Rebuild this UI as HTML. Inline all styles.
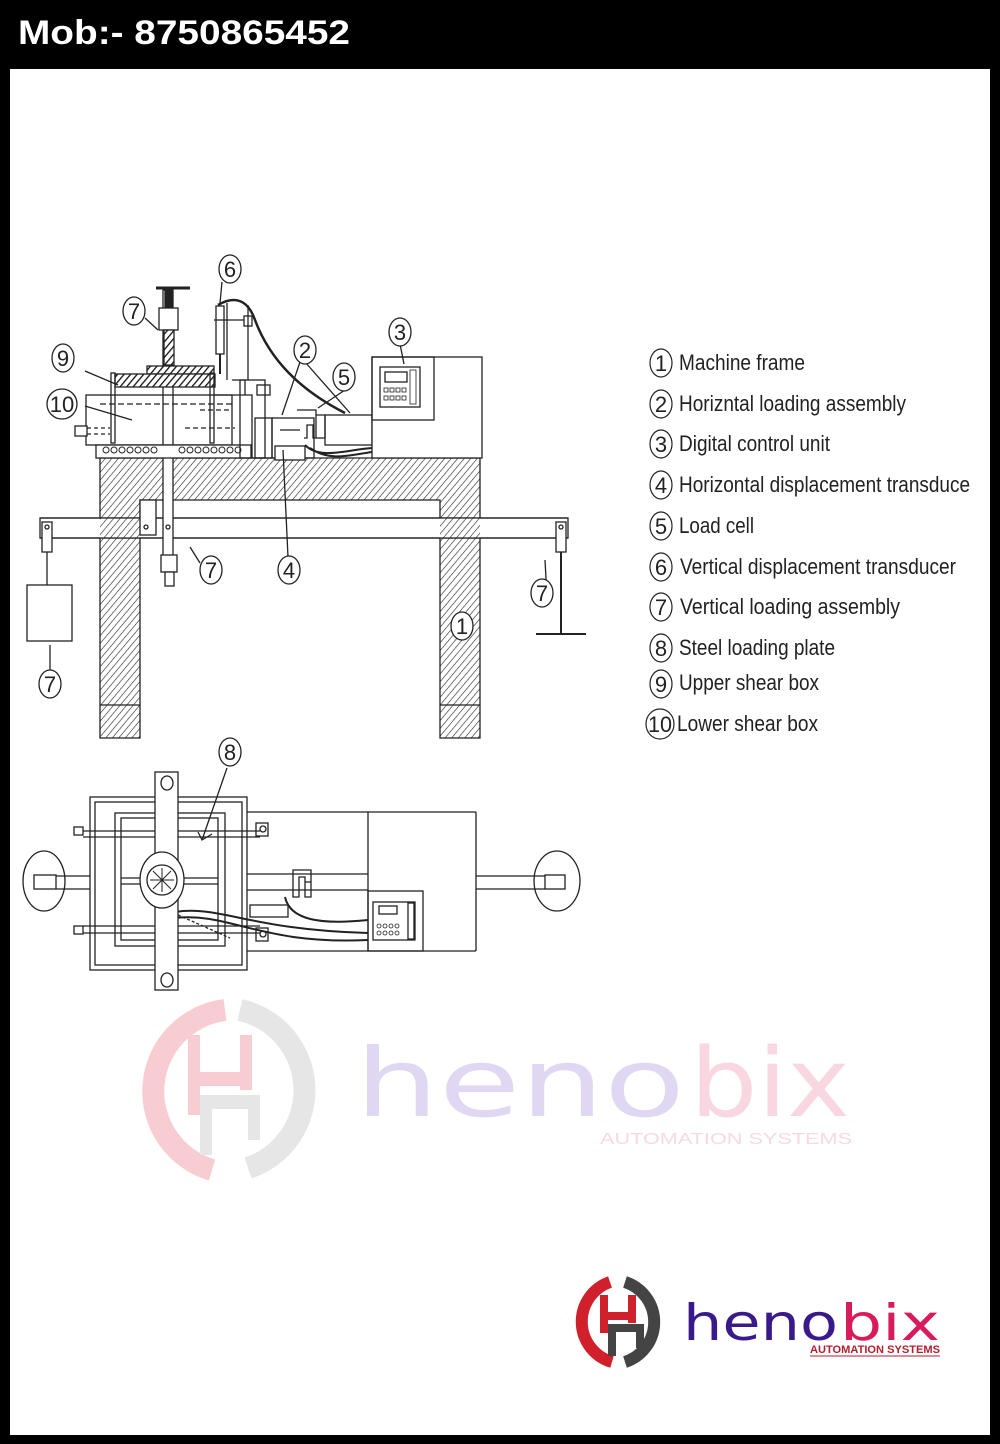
<!DOCTYPE html>
<html><head><meta charset="utf-8"><style>
html,body{margin:0;padding:0;background:#000;}
body{width:1000px;height:1444px;position:relative;overflow:hidden;font-family:"Liberation Sans",sans-serif;}
#panel{position:absolute;left:10px;top:69px;width:980px;height:1366px;background:#fff;}
svg{position:absolute;left:0;top:0;}
</style></head><body>
<div id="panel"></div>
<svg width="1000" height="1444" viewBox="0 0 1000 1444" font-family="Liberation Sans, sans-serif">
<defs>
<pattern id="h" width="5" height="5" patternUnits="userSpaceOnUse" patternTransform="rotate(40)">
<rect width="5" height="5" fill="#fff"/><line x1="0" y1="0" x2="0" y2="5" stroke="#222" stroke-width="1.2"/></pattern>
<pattern id="hd" width="5" height="5" patternUnits="userSpaceOnUse" patternTransform="rotate(40)">
<rect width="5" height="5" fill="#fff"/><line x1="0" y1="0" x2="0" y2="5" stroke="#111" stroke-width="2.6"/></pattern>
</defs>
<text x="18" y="44" fill="#fff" font-weight="bold" font-size="34" textLength="332" lengthAdjust="spacingAndGlyphs">Mob:- 8750865452</text>
<g fill="none" stroke="#222" stroke-width="1.3">
<path d="M100 458 H480 V738 H440 V500 H140 V738 H100 Z" fill="url(#h)"/>
<line x1="100" y1="705" x2="140" y2="705"/><line x1="440" y1="705" x2="480" y2="705"/>
<rect x="40" y="518" width="528" height="20" fill="#fff"/>
<rect x="100" y="518" width="40" height="20" fill="url(#h)" stroke="none"/>
<rect x="440" y="518" width="40" height="20" fill="url(#h)" stroke="none"/>
<line x1="40" y1="518" x2="568" y2="518"/><line x1="40" y1="538" x2="568" y2="538"/>
<rect x="42" y="522" width="10" height="30" fill="#fff"/><circle cx="47" cy="527" r="2"/>
<line x1="47" y1="552" x2="47" y2="585"/><rect x="27" y="585" width="45" height="56" fill="#fff"/>
<rect x="556" y="522" width="10" height="30" fill="#fff"/><circle cx="561" cy="527" r="2"/>
<line x1="561" y1="552" x2="561" y2="634" stroke-width="2"/><line x1="536" y1="634" x2="586" y2="634" stroke-width="2"/>
<rect x="140" y="500" width="16" height="35" fill="#fff"/><circle cx="146" cy="527" r="2"/>
<rect x="163" y="290" width="10" height="270" fill="#fff"/>
<rect x="161" y="555" width="16" height="17" fill="#fff"/><rect x="165" y="572" width="9" height="14" fill="#fff"/>
<circle cx="168" cy="527" r="2"/>
<line x1="156" y1="288" x2="190" y2="288" stroke-width="3"/>
<rect x="165" y="290" width="7" height="20" fill="#222"/>
<rect x="159" y="308" width="19" height="22" fill="#fff"/>
<rect x="164" y="330" width="10" height="35" fill="url(#hd)"/>
<rect x="147" y="366" width="67" height="8" fill="url(#hd)"/>
<rect x="115" y="374" width="100" height="13" fill="url(#hd)"/>
<rect x="111" y="373" width="4" height="70"/><rect x="210" y="373" width="4" height="70"/>
<rect x="86" y="395" width="146" height="50" fill="none"/>
<line x1="200" y1="410" x2="230" y2="410" stroke-dasharray="5 3"/>
<line x1="100" y1="404" x2="232" y2="404" stroke-dasharray="6 3"/>
<rect x="75" y="426" width="12" height="10" fill="#fff"/>
<line x1="87" y1="428" x2="110" y2="428" stroke-dasharray="4 3"/><line x1="87" y1="434" x2="110" y2="434" stroke-dasharray="4 3"/>
<line x1="185" y1="428" x2="235" y2="428" stroke-dasharray="5 3"/>
<rect x="96" y="445" width="155" height="13" fill="#fff"/>
<g stroke-width="1">
<circle cx="106" cy="450" r="3"/><circle cx="114" cy="450" r="3"/><circle cx="122" cy="450" r="3"/><circle cx="130" cy="450" r="3"/><circle cx="138" cy="450" r="3"/><circle cx="146" cy="450" r="3"/><circle cx="154" cy="450" r="3"/><circle cx="182" cy="450" r="3"/><circle cx="190" cy="450" r="3"/><circle cx="198" cy="450" r="3"/><circle cx="206" cy="450" r="3"/><circle cx="214" cy="450" r="3"/><circle cx="222" cy="450" r="3"/><circle cx="230" cy="450" r="3"/><circle cx="238" cy="450" r="3"/></g>
<path d="M214 395 H252 V458 M232 380 H245 V395"/>
<rect x="240" y="380" width="25" height="78"/><rect x="257" y="385" width="13" height="10"/>
<line x1="227" y1="303" x2="227" y2="380"/>
<rect x="216" y="306" width="8" height="48" fill="#fff"/><line x1="220" y1="354" x2="220" y2="374" stroke-width="2"/>
<line x1="214" y1="320" x2="248" y2="320"/><rect x="244" y="316" width="8" height="10" fill="#fff"/>
<line x1="248" y1="305" x2="248" y2="380"/>
<path d="M218 305 C235 295 248 300 255 320 C270 360 300 390 345 413" stroke-width="2.5"/>
<rect x="255" y="418" width="17" height="40"/>
<rect x="272" y="418" width="42" height="40"/>
<rect x="275" y="446" width="30" height="14" fill="#fff"/>
<line x1="280" y1="430" x2="300" y2="430"/>
<path d="M297 410 H316 V438 H313 V425 H307 V438 H304 M316 415 H325 V438 H316" />
<rect x="325" y="415" width="47" height="30"/>
<path d="M305 445 C320 460 345 450 372 448 M310 448 C330 462 350 455 372 452" stroke-width="2"/>
<rect x="372" y="357" width="110" height="101" fill="#fff"/>
<rect x="372" y="357" width="62" height="63"/>
<rect x="380" y="367" width="40" height="40"/><rect x="385" y="372" width="22" height="10"/>
<g stroke-width="0.8"><rect x="384" y="388" width="4" height="4"/><rect x="390" y="388" width="4" height="4"/><rect x="396" y="388" width="4" height="4"/><rect x="402" y="388" width="4" height="4"/><rect x="384" y="396" width="4" height="4"/><rect x="390" y="396" width="4" height="4"/><rect x="396" y="396" width="4" height="4"/><rect x="402" y="396" width="4" height="4"/><rect x="410" y="370" width="6" height="34"/></g>
<path d="M145 318 L158 330 M85 371 L118 385 M85 406 L132 420 M222 282 L220 303 M300 362 L282 415 M305 362 L350 413 M345 390 L318 408 M400 344 L404 364 M288 557 L283 450 M200 563 L190 547 M547 597 L545 560 M50 670 L50 645"/>
</g>
<g fill="#fff" stroke="#222" stroke-width="1.3" font-size="22" text-anchor="middle">
<ellipse cx="230" cy="269" rx="11" ry="14"/><text x="230" y="277" fill="#222" stroke="none">6</text>
<ellipse cx="134" cy="311" rx="11" ry="14"/><text x="134" y="319" fill="#222" stroke="none">7</text>
<ellipse cx="63" cy="358" rx="11" ry="14"/><text x="63" y="366" fill="#222" stroke="none">9</text>
<ellipse cx="62" cy="404" rx="15" ry="15"/><text x="62" y="412" fill="#222" stroke="none">10</text>
<ellipse cx="305" cy="350" rx="11" ry="14"/><text x="305" y="358" fill="#222" stroke="none">2</text>
<ellipse cx="344" cy="377" rx="11" ry="14"/><text x="344" y="385" fill="#222" stroke="none">5</text>
<ellipse cx="400" cy="332" rx="11" ry="14"/><text x="400" y="340" fill="#222" stroke="none">3</text>
<ellipse cx="211" cy="570" rx="11" ry="14"/><text x="211" y="578" fill="#222" stroke="none">7</text>
<ellipse cx="289" cy="570" rx="11" ry="14"/><text x="289" y="578" fill="#222" stroke="none">4</text>
<ellipse cx="542" cy="593" rx="11" ry="14"/><text x="542" y="601" fill="#222" stroke="none">7</text>
<ellipse cx="462" cy="626" rx="11" ry="14"/><text x="462" y="634" fill="#222" stroke="none">1</text>
<ellipse cx="50" cy="684" rx="11" ry="14"/><text x="50" y="692" fill="#222" stroke="none">7</text>
<ellipse cx="230" cy="752" rx="11" ry="14"/><text x="230" y="760" fill="#222" stroke="none">8</text>
</g>
<g fill="none" stroke="#222" stroke-width="1.3">
<rect x="90" y="797" width="157" height="173"/><rect x="95" y="802" width="147" height="163"/>
<rect x="115" y="813" width="110" height="133"/><rect x="121" y="818" width="97" height="122"/>
<line x1="247" y1="812" x2="476" y2="812"/><line x1="247" y1="951" x2="476" y2="951"/>
<line x1="368" y1="812" x2="368" y2="951"/><line x1="476" y1="812" x2="476" y2="951"/>
<rect x="74" y="827" width="9" height="8"/><line x1="83" y1="831" x2="260" y2="831"/><line x1="83" y1="837" x2="260" y2="837"/>
<rect x="256" y="823" width="12" height="13"/><circle cx="263" cy="829" r="3"/>
<rect x="74" y="926" width="9" height="8"/><line x1="83" y1="926" x2="260" y2="926"/><line x1="83" y1="933" x2="260" y2="933"/>
<rect x="256" y="928" width="12" height="13"/><circle cx="263" cy="934" r="3"/>
<line x1="121" y1="878" x2="218" y2="878"/><line x1="121" y1="884" x2="218" y2="884"/>
<line x1="247" y1="874" x2="368" y2="874"/><line x1="247" y1="890" x2="368" y2="890"/>
<line x1="476" y1="876" x2="545" y2="876"/><line x1="476" y1="889" x2="545" y2="889"/>
<ellipse cx="44" cy="881" rx="21" ry="30"/><rect x="34" y="875" width="22" height="14"/>
<line x1="56" y1="876" x2="90" y2="876"/><line x1="56" y1="889" x2="90" y2="889"/>
<ellipse cx="557" cy="881" rx="23" ry="30"/><rect x="545" y="875" width="20" height="14"/>
<path d="M293 870 H311 V882 H305 V877 H299 V897 H293 Z M305 882 V897 H311 V882"/>
<rect x="368" y="891" width="55" height="60"/>
<rect x="373" y="902" width="42" height="38"/><rect x="379" y="906" width="18" height="8"/>
<rect x="408" y="903" width="6" height="36"/>
<g stroke-width="0.8"><circle cx="379" cy="926" r="2"/><circle cx="385" cy="926" r="2"/><circle cx="391" cy="926" r="2"/><circle cx="397" cy="926" r="2"/><circle cx="379" cy="933" r="2"/><circle cx="385" cy="933" r="2"/><circle cx="391" cy="933" r="2"/><circle cx="397" cy="933" r="2"/></g>
<rect x="250" y="905" width="38" height="12"/>
<path d="M285 897 C290 920 320 925 368 920 M175 912 C220 905 250 930 368 933 M175 918 C230 912 260 945 368 940" stroke-width="2"/>
<line x1="178" y1="915" x2="230" y2="938" stroke-dasharray="3 2"/>
<rect x="155" y="772" width="23" height="218" fill="#fff"/>
<ellipse cx="167" cy="783" rx="6" ry="7"/><ellipse cx="167" cy="980" rx="6" ry="7"/>
<ellipse cx="162" cy="880" rx="22" ry="28" fill="#fff"/><circle cx="162" cy="880" r="15"/>
<path d="M162 868 V892 M150 880 H174 M153 871 L171 889 M171 871 L153 889" stroke-width="1"/>
<path d="M227 768 L202 840 M198 832 L202 840 L212 834"/>
</g>
<g font-size="22" fill="#222">
<g fill="none" stroke="#222" stroke-width="1.2">
<ellipse cx="661" cy="363" rx="11" ry="14"/><ellipse cx="661" cy="404" rx="11" ry="14"/><ellipse cx="661" cy="444" rx="11" ry="14"/><ellipse cx="661" cy="485" rx="11" ry="14"/><ellipse cx="661" cy="526" rx="11" ry="14"/><ellipse cx="661" cy="567" rx="11" ry="14"/><ellipse cx="661" cy="607" rx="11" ry="14"/><ellipse cx="661" cy="648" rx="11" ry="14"/><ellipse cx="661" cy="684" rx="11" ry="14"/><ellipse cx="660" cy="724" rx="14" ry="15"/></g>
<g text-anchor="middle"><text x="661" y="371">1</text><text x="661" y="412">2</text><text x="661" y="452">3</text><text x="661" y="493">4</text><text x="661" y="534">5</text><text x="661" y="575">6</text><text x="661" y="615">7</text><text x="661" y="656">8</text><text x="661" y="692">9</text><text x="660" y="732" textLength="24" lengthAdjust="spacingAndGlyphs">10</text></g>
<text x="679" y="370" textLength="126" lengthAdjust="spacingAndGlyphs">Machine frame</text>
<text x="679" y="411" textLength="227" lengthAdjust="spacingAndGlyphs">Horizntal loading assembly</text>
<text x="679" y="451" textLength="151" lengthAdjust="spacingAndGlyphs">Digital control unit</text>
<text x="679" y="492" textLength="291" lengthAdjust="spacingAndGlyphs">Horizontal displacement transduce</text>
<text x="679" y="533" textLength="75" lengthAdjust="spacingAndGlyphs">Load cell</text>
<text x="680" y="574" textLength="276" lengthAdjust="spacingAndGlyphs">Vertical displacement transducer</text>
<text x="680" y="614" textLength="220" lengthAdjust="spacingAndGlyphs">Vertical  loading assembly</text>
<text x="679" y="655" textLength="156" lengthAdjust="spacingAndGlyphs">Steel loading plate</text>
<text x="679" y="690" textLength="140" lengthAdjust="spacingAndGlyphs">Upper shear box</text>
<text x="677" y="731" textLength="141" lengthAdjust="spacingAndGlyphs">Lower shear box</text>
</g>
<g opacity="0.9">
<path d="M225 1010 A82 82 0 0 0 212 1170" fill="none" stroke="#f7c8ce" stroke-width="22"/>
<path d="M240 1010 A82 82 0 0 1 248 1168" fill="none" stroke="#e4e4e4" stroke-width="22"/>
<rect x="188" y="1035" width="12" height="80" fill="#f7c8ce"/><rect x="240" y="1035" width="12" height="55" fill="#f7c8ce"/>
<rect x="188" y="1072" width="64" height="14" fill="#f7c8ce"/>
<rect x="200" y="1095" width="12" height="60" fill="#e4e4e4"/><rect x="248" y="1095" width="12" height="45" fill="#e4e4e4"/>
<rect x="200" y="1095" width="60" height="14" fill="#e4e4e4"/>
<text x="355" y="1116" font-family="DejaVu Sans, sans-serif" font-size="95" fill="#ddd4f2" textLength="330" lengthAdjust="spacingAndGlyphs">heno</text>
<text x="690" y="1116" font-family="DejaVu Sans, sans-serif" font-size="95" fill="#f9d3de" textLength="160" lengthAdjust="spacingAndGlyphs">bix</text>
<text x="600" y="1144" font-size="16" fill="#f6d6dc" textLength="252" lengthAdjust="spacingAndGlyphs">AUTOMATION SYSTEMS</text>
</g>
<path d="M610 1282 A42 42 0 0 0 612 1362" fill="none" stroke="#d0202c" stroke-width="12"/>
<path d="M625 1282 A42 42 0 0 1 625 1362" fill="none" stroke="#444" stroke-width="12"/>
<rect x="600" y="1295" width="8" height="38" fill="#d0202c"/><rect x="628" y="1295" width="8" height="28" fill="#d0202c"/><rect x="600" y="1312" width="36" height="8" fill="#d0202c"/>
<rect x="608" y="1324" width="8" height="32" fill="#444"/><rect x="636" y="1324" width="8" height="24" fill="#444"/><rect x="608" y="1324" width="36" height="8" fill="#444"/>
<text x="683" y="1340" font-family="DejaVu Sans, sans-serif" font-size="50" fill="#3a1a8a" textLength="155" lengthAdjust="spacingAndGlyphs">heno</text>
<text x="840" y="1340" font-family="DejaVu Sans, sans-serif" font-size="50" fill="#d81b5a" textLength="100" lengthAdjust="spacingAndGlyphs">bix</text>
<text x="810" y="1353" font-size="11" font-weight="bold" fill="#b02030" textLength="130" lengthAdjust="spacingAndGlyphs">AUTOMATION SYSTEMS</text>
<line x1="810" y1="1356" x2="940" y2="1356" stroke="#b02030" stroke-width="1"/>
</svg>
</body></html>
